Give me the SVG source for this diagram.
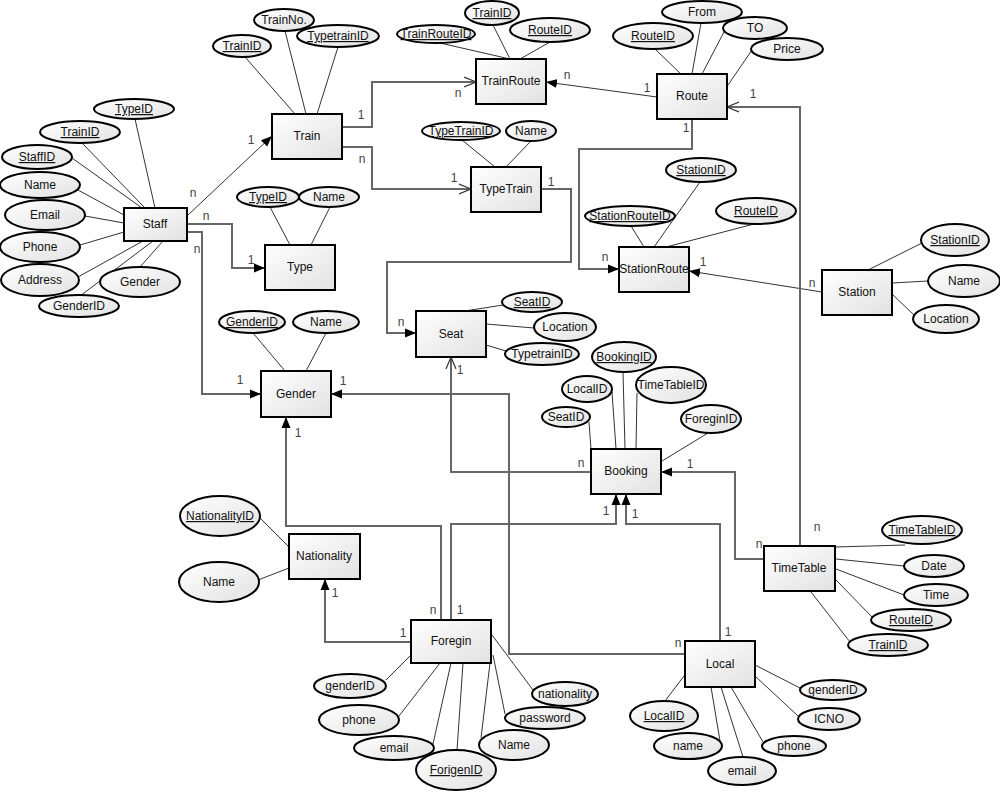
<svg xmlns="http://www.w3.org/2000/svg" width="1000" height="800" viewBox="0 0 1000 800">
<defs>
<linearGradient id="g" x1="0" y1="0" x2="1" y2="1">
<stop offset="0" stop-color="#ffffff"/>
<stop offset="1" stop-color="#e2e2e2"/>
</linearGradient>
<marker id="af" markerWidth="12" markerHeight="10" refX="11" refY="5" orient="auto" markerUnits="userSpaceOnUse">
<path d="M0,0.5 L11,5 L0,9.5 z" fill="#000"/>
</marker>
<marker id="ao" markerWidth="14" markerHeight="12" refX="12" refY="6" orient="auto" markerUnits="userSpaceOnUse">
<path d="M0,1 L12,6 L0,11" fill="none" stroke="#333" stroke-width="1.2"/>
</marker>
<style>
.e rect{fill:url(#g);stroke:#000;stroke-width:2}
.a ellipse{fill:url(#g);stroke:#000;stroke-width:2}
text{font-family:"Liberation Sans",Arial,sans-serif;font-size:12px;fill:#111;text-anchor:middle}
.u{text-decoration:underline;text-decoration-color:#888}
.al{stroke:#333;stroke-width:1;fill:none}
.c{stroke:#666;stroke-width:2;fill:none}
.cf{marker-end:url(#af)}
.co{marker-end:url(#ao)}
.lb text{font-size:12px;fill:#444}
</style>
</defs>
<rect width="1000" height="800" fill="#fff"/>

<g id="connectors">
<g class="al">
<line x1="245" y1="57" x2="295" y2="114"/><line x1="285" y1="31" x2="306" y2="114"/><line x1="338" y1="47" x2="317" y2="114"/>
<line x1="135" y1="119" x2="155" y2="208"/><line x1="82" y1="143" x2="145" y2="208"/><line x1="72" y1="158" x2="142" y2="208"/><line x1="78" y1="190" x2="124" y2="215"/><line x1="85" y1="216" x2="124" y2="223"/><line x1="80" y1="245" x2="124" y2="232"/><line x1="78" y1="277" x2="143" y2="241"/><line x1="140" y1="267" x2="163" y2="241"/><line x1="80" y1="296" x2="153" y2="241"/>
<line x1="270" y1="207" x2="290" y2="245"/><line x1="330" y1="207" x2="311" y2="245"/>
<line x1="253" y1="333" x2="285" y2="371"/><line x1="326" y1="333" x2="306" y2="371"/>
<line x1="440" y1="43" x2="510" y2="59"/><line x1="493" y1="25" x2="510" y2="59"/><line x1="550" y1="42" x2="520" y2="59"/>
<line x1="655" y1="49" x2="681" y2="74"/><line x1="701" y1="23" x2="692" y2="74"/><line x1="724" y1="32" x2="702" y2="74"/><line x1="752" y1="50" x2="728" y2="85"/>
<line x1="462" y1="140" x2="495" y2="167"/><line x1="531" y1="141" x2="506" y2="167"/>
<line x1="700" y1="182" x2="654" y2="247"/><line x1="631" y1="226" x2="644" y2="247"/><line x1="754" y1="224" x2="666" y2="247"/>
<line x1="922" y1="243" x2="868" y2="270"/><line x1="928" y1="281" x2="892" y2="283"/><line x1="915" y1="316" x2="892" y2="294"/>
<line x1="503" y1="305" x2="465" y2="311"/><line x1="534" y1="328" x2="486" y2="324"/><line x1="506" y1="351" x2="486" y2="345"/>
<line x1="623" y1="372" x2="625" y2="449"/><line x1="612" y1="392" x2="616" y2="449"/><line x1="637" y1="393" x2="636" y2="449"/><line x1="589" y1="422" x2="591" y2="449"/><line x1="708" y1="433" x2="662" y2="461"/>
<line x1="905" y1="545" x2="835" y2="547"/><line x1="904" y1="566" x2="836" y2="559"/><line x1="904" y1="595" x2="836" y2="569"/><line x1="873" y1="618" x2="836" y2="580"/><line x1="850" y1="642" x2="811" y2="592"/>
<line x1="386" y1="680" x2="412" y2="654"/><line x1="399" y1="716" x2="440" y2="663"/><line x1="433" y1="744" x2="451" y2="663"/><line x1="457" y1="750" x2="463" y2="663"/><line x1="481" y1="738" x2="490" y2="663"/><line x1="505" y1="714" x2="493" y2="655"/><line x1="533" y1="690" x2="492" y2="635"/>
<line x1="665" y1="701" x2="684" y2="676"/><line x1="720" y1="741" x2="711" y2="687"/><line x1="743" y1="757" x2="721" y2="687"/><line x1="763" y1="742" x2="731" y2="687"/><line x1="798" y1="716" x2="755" y2="676"/><line x1="800" y1="688" x2="755" y2="665"/>
<line x1="259" y1="517" x2="289" y2="547"/><line x1="258" y1="580" x2="289" y2="568"/>
</g>
<path class="al cf" d="M188,215 L272,136"/>
<path class="c cf" d="M187,224 H232 V268 H265"/>
<path class="c cf" d="M187,232 H202 V394 H261"/>
<path class="c co" d="M342,127 H372 V82 H476"/>
<path class="c co" d="M342,147 H372 V189 H471"/>
<path class="al cf" d="M657,97 L546,82"/>
<path class="c cf" d="M692,119 V149 H579 V269 H619"/>
<path class="al cf" d="M822,292 L689,271"/>
<path class="c co" d="M800,546 V107 H727"/>
<path class="c cf" d="M541,189 H571 V262 H387 V333 H416"/>
<path class="c co" d="M591,472 H451 V357"/>
<path class="c cf" d="M764,559 H735 V472 H661"/>
<path class="c cf" d="M685,654 H509 V394 H331"/>
<path class="c cf" d="M441,620 V526 H286 V417"/>
<path class="c cf" d="M451,620 V524 H616 V494"/>
<path class="c cf" d="M720,641 V524 H626 V494"/>
<path class="c cf" d="M411,642 H325 V579"/>
<g class="lb">
<text x="193" y="197">n</text><text x="251" y="144">1</text>
<text x="206" y="220">n</text><text x="251" y="264">1</text>
<text x="197" y="253">n</text><text x="240" y="384">1</text>
<text x="361" y="119">1</text><text x="458" y="97">n</text>
<text x="362" y="163">n</text><text x="454" y="182">1</text>
<text x="567" y="79">n</text><text x="647" y="92">1</text>
<text x="686" y="132">1</text><text x="605" y="261">n</text>
<text x="703" y="266">1</text><text x="812" y="287">n</text>
<text x="753" y="98">1</text><text x="817" y="531">n</text>
<text x="551" y="186">1</text><text x="401" y="326">n</text>
<text x="581" y="467">n</text><text x="460" y="374">1</text>
<text x="690" y="468">1</text><text x="759" y="548">n</text>
<text x="678" y="647">n</text><text x="343" y="385">1</text>
<text x="433" y="614">n</text><text x="298" y="437">1</text>
<text x="460" y="614">1</text><text x="606" y="515">1</text>
<text x="728" y="636">1</text><text x="635" y="518">1</text>
<text x="403" y="637">1</text><text x="335" y="597">1</text>
</g>
</g>

<g id="train" class="e"><rect x="272" y="114" width="70" height="45"/><text x="307" y="140">Train</text></g>
<g id="staff" class="e"><rect x="124" y="208" width="63" height="33"/><text x="155" y="228">Staff</text></g>
<g id="type" class="e"><rect x="265" y="245" width="70" height="45"/><text x="300" y="271">Type</text></g>
<g id="trainroute" class="e"><rect x="476" y="59" width="70" height="45"/><text x="511" y="85">TrainRoute</text></g>
<g id="route" class="e"><rect x="657" y="74" width="70" height="45"/><text x="692" y="100">Route</text></g>
<g id="typetrain" class="e"><rect x="471" y="167" width="70" height="45"/><text x="506" y="193">TypeTrain</text></g>
<g id="stationroute" class="e"><rect x="619" y="247" width="70" height="45"/><text x="654" y="273">StationRoute</text></g>
<g id="station" class="e"><rect x="822" y="270" width="70" height="45"/><text x="857" y="296">Station</text></g>
<g id="gender" class="e"><rect x="261" y="371" width="70" height="46"/><text x="296" y="398">Gender</text></g>
<g id="nationality" class="e"><rect x="289" y="534" width="71" height="45"/><text x="324" y="560">Nationality</text></g>
<g id="seat" class="e"><rect x="416" y="311" width="70" height="46"/><text x="451" y="338">Seat</text></g>
<g id="booking" class="e"><rect x="591" y="449" width="70" height="45"/><text x="626" y="475">Booking</text></g>
<g id="timetable" class="e"><rect x="764" y="546" width="71" height="45"/><text x="799" y="572">TimeTable</text></g>
<g id="foregin" class="e"><rect x="411" y="620" width="80" height="43"/><text x="451" y="645">Foregin</text></g>
<g id="local" class="e"><rect x="685" y="641" width="70" height="46"/><text x="720" y="668">Local</text></g>

<g id="train-trainid" class="a"><ellipse cx="242" cy="46" rx="29" ry="11"/><text class="u" x="242" y="50">TrainID</text></g>
<g id="train-trainno" class="a"><ellipse cx="284" cy="20" rx="30" ry="11"/><text x="284" y="24">TrainNo.</text></g>
<g id="train-typetrainid" class="a"><ellipse cx="338" cy="36" rx="41" ry="11"/><text class="u" x="338" y="40">TypetrainID</text></g>

<g id="staff-typeid" class="a"><ellipse cx="134" cy="109" rx="40" ry="10"/><text class="u" x="134" y="113">TypeID</text></g>
<g id="staff-trainid" class="a"><ellipse cx="80" cy="132" rx="40" ry="11"/><text class="u" x="80" y="136">TrainID</text></g>
<g id="staff-staffid" class="a"><ellipse cx="37" cy="157" rx="35" ry="12"/><text class="u" x="37" y="161">StaffID</text></g>
<g id="staff-name" class="a"><ellipse cx="40" cy="185" rx="40" ry="13"/><text x="40" y="189">Name</text></g>
<g id="staff-email" class="a"><ellipse cx="45" cy="215" rx="40" ry="15"/><text x="45" y="219">Email</text></g>
<g id="staff-phone" class="a"><ellipse cx="40" cy="247" rx="40" ry="15"/><text x="40" y="251">Phone</text></g>
<g id="staff-address" class="a"><ellipse cx="40" cy="280" rx="39" ry="16"/><text x="40" y="284">Address</text></g>
<g id="staff-gender" class="a"><ellipse cx="140" cy="282" rx="40" ry="15"/><text x="140" y="286">Gender</text></g>
<g id="staff-genderid" class="a"><ellipse cx="79" cy="306" rx="40" ry="11"/><text x="79" y="310">GenderID</text></g>

<g id="type-typeid" class="a"><ellipse cx="268" cy="197" rx="31" ry="10"/><text class="u" x="268" y="201">TypeID</text></g>
<g id="type-name" class="a"><ellipse cx="329" cy="197" rx="30" ry="10"/><text x="329" y="201">Name</text></g>

<g id="gender-genderid" class="a"><ellipse cx="252" cy="322" rx="33" ry="11"/><text class="u" x="252" y="326">GenderID</text></g>
<g id="gender-name" class="a"><ellipse cx="326" cy="322" rx="33" ry="11"/><text x="326" y="326">Name</text></g>

<g id="trainroute-trainrouteid" class="a"><ellipse cx="436" cy="34" rx="39" ry="9"/><text class="u" x="436" y="38">TrainRouteID</text></g>
<g id="trainroute-trainid" class="a"><ellipse cx="492" cy="13" rx="27" ry="12"/><text class="u" x="492" y="17">TrainID</text></g>
<g id="trainroute-routeid" class="a"><ellipse cx="550" cy="30" rx="40" ry="12"/><text class="u" x="550" y="34">RouteID</text></g>

<g id="route-routeid" class="a"><ellipse cx="653" cy="36" rx="40" ry="13"/><text class="u" x="653" y="40">RouteID</text></g>
<g id="route-from" class="a"><ellipse cx="702" cy="12" rx="40" ry="11"/><text x="702" y="16">From</text></g>
<g id="route-to" class="a"><ellipse cx="755" cy="28" rx="32" ry="11"/><text x="755" y="32">TO</text></g>
<g id="route-price" class="a"><ellipse cx="787" cy="49" rx="36" ry="11"/><text x="787" y="53">Price</text></g>

<g id="typetrain-typetrainid" class="a"><ellipse cx="461" cy="131" rx="39" ry="9"/><text class="u" x="461" y="135">TypeTrainID</text></g>
<g id="typetrain-name" class="a"><ellipse cx="531" cy="131" rx="25" ry="10"/><text x="531" y="135">Name</text></g>

<g id="stationroute-stationid" class="a"><ellipse cx="701" cy="170" rx="35" ry="12"/><text class="u" x="701" y="174">StationID</text></g>
<g id="stationroute-stationrouteid" class="a"><ellipse cx="630" cy="216" rx="45" ry="10"/><text class="u" x="630" y="220">StationRouteID</text></g>
<g id="stationroute-routeid" class="a"><ellipse cx="756" cy="211" rx="40" ry="13"/><text class="u" x="756" y="215">RouteID</text></g>

<g id="station-stationid" class="a"><ellipse cx="955" cy="240" rx="34" ry="16"/><text class="u" x="955" y="244">StationID</text></g>
<g id="station-name" class="a"><ellipse cx="964" cy="281" rx="36" ry="16"/><text x="964" y="285">Name</text></g>
<g id="station-location" class="a"><ellipse cx="946" cy="319" rx="33" ry="14"/><text x="946" y="323">Location</text></g>

<g id="seat-seatid" class="a"><ellipse cx="532" cy="302" rx="30" ry="10"/><text class="u" x="532" y="306">SeatID</text></g>
<g id="seat-location" class="a"><ellipse cx="565" cy="327" rx="31" ry="14"/><text x="565" y="331">Location</text></g>
<g id="seat-typetrainid" class="a"><ellipse cx="542" cy="354" rx="37" ry="11"/><text x="542" y="358">TypetrainID</text></g>

<g id="booking-bookingid" class="a"><ellipse cx="624" cy="357" rx="32" ry="15"/><text class="u" x="624" y="361">BookingID</text></g>
<g id="booking-localid" class="a"><ellipse cx="587" cy="389" rx="25" ry="13"/><text x="587" y="393">LocalID</text></g>
<g id="booking-timetableid" class="a"><ellipse cx="671" cy="385" rx="35" ry="18"/><text x="671" y="389">TimeTableID</text></g>
<g id="booking-seatid" class="a"><ellipse cx="566" cy="417" rx="24" ry="10"/><text x="566" y="421">SeatID</text></g>
<g id="booking-foreginid" class="a"><ellipse cx="711" cy="419" rx="30" ry="14"/><text x="711" y="423">ForeginID</text></g>

<g id="timetable-timetableid" class="a"><ellipse cx="922" cy="530" rx="40" ry="14"/><text class="u" x="922" y="534">TimeTableID</text></g>
<g id="timetable-date" class="a"><ellipse cx="934" cy="566" rx="30" ry="11"/><text x="934" y="570">Date</text></g>
<g id="timetable-time" class="a"><ellipse cx="936" cy="595" rx="32" ry="11"/><text x="936" y="599">Time</text></g>
<g id="timetable-routeid" class="a"><ellipse cx="911" cy="620" rx="40" ry="11"/><text class="u" x="911" y="624">RouteID</text></g>
<g id="timetable-trainid" class="a"><ellipse cx="888" cy="645" rx="40" ry="11"/><text class="u" x="888" y="649">TrainID</text></g>

<g id="foregin-genderid" class="a"><ellipse cx="350" cy="686" rx="36" ry="12"/><text x="350" y="690">genderID</text></g>
<g id="foregin-phone" class="a"><ellipse cx="359" cy="720" rx="40" ry="15"/><text x="359" y="724">phone</text></g>
<g id="foregin-email" class="a"><ellipse cx="394" cy="748" rx="40" ry="12"/><text x="394" y="752">email</text></g>
<g id="foregin-forigenid" class="a"><ellipse cx="456" cy="770" rx="40" ry="20"/><text class="u" x="456" y="774">ForigenID</text></g>
<g id="foregin-name" class="a"><ellipse cx="514" cy="745" rx="35" ry="15"/><text x="514" y="749">Name</text></g>
<g id="foregin-password" class="a"><ellipse cx="545" cy="718" rx="40" ry="11"/><text x="545" y="722">password</text></g>
<g id="foregin-nationality" class="a"><ellipse cx="565" cy="694" rx="33" ry="12"/><text x="565" y="698">nationality</text></g>

<g id="local-localid" class="a"><ellipse cx="664" cy="716" rx="34" ry="15"/><text class="u" x="664" y="720">LocalID</text></g>
<g id="local-name" class="a"><ellipse cx="688" cy="746" rx="34" ry="13"/><text x="688" y="750">name</text></g>
<g id="local-email" class="a"><ellipse cx="742" cy="771" rx="34" ry="14"/><text x="742" y="775">email</text></g>
<g id="local-phone" class="a"><ellipse cx="794" cy="746" rx="32" ry="10"/><text x="794" y="750">phone</text></g>
<g id="local-icno" class="a"><ellipse cx="829" cy="719" rx="31" ry="11"/><text x="829" y="723">ICNO</text></g>
<g id="local-genderid" class="a"><ellipse cx="833" cy="690" rx="33" ry="10"/><text x="833" y="694">genderID</text></g>

<g id="nationality-nationalityid" class="a"><ellipse cx="220" cy="516" rx="40" ry="20"/><text class="u" x="220" y="520">NationalityID</text></g>
<g id="nationality-name" class="a"><ellipse cx="219" cy="582" rx="40" ry="20"/><text x="219" y="586">Name</text></g>
</svg>
